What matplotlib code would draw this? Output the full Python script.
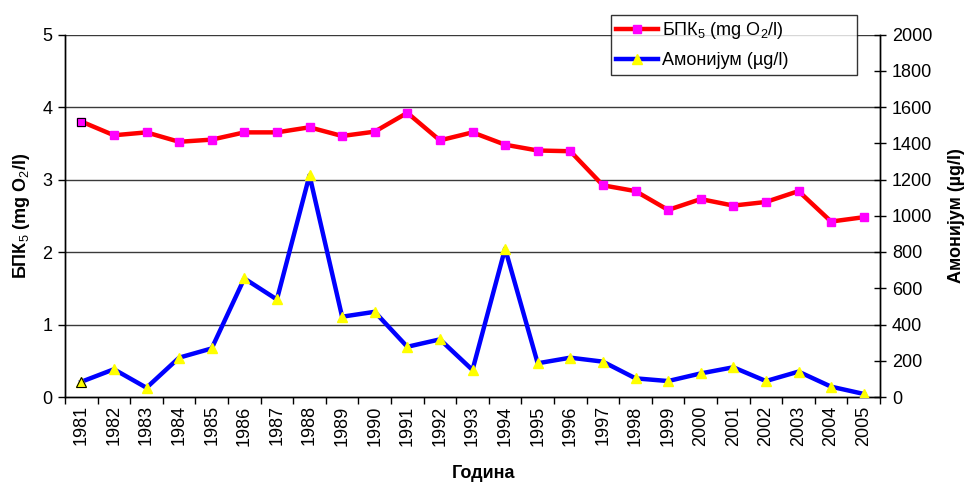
import matplotlib
matplotlib.use("Agg")
import matplotlib.pyplot as plt
import numpy as np

plt.rcParams['font.family'] = ['Liberation Sans', 'DejaVu Sans']
plt.rcParams['mathtext.fontset'] = 'custom'
plt.rcParams['mathtext.rm'] = 'Liberation Sans'
plt.rcParams['mathtext.it'] = 'Liberation Sans'
plt.rcParams['mathtext.bf'] = 'Liberation Sans:bold'

years = list(range(1981, 2006))
bpk5 = [3.80, 3.61, 3.65, 3.52, 3.55, 3.65, 3.65, 3.72, 3.60, 3.66, 3.92, 3.54, 3.65,
        3.48, 3.40, 3.39, 2.92, 2.84, 2.58, 2.73, 2.64, 2.69, 2.84, 2.42, 2.48]
ammonium = [84, 153, 51, 217, 268, 654, 538, 1223, 443, 470, 277, 318, 149,
            819, 186, 217, 195, 103, 88, 130, 164, 88, 140, 57, 17]
left_ticks = [0, 1, 2, 3, 4, 5]
right_ticks = list(range(0, 2001, 200))

FS = 13

fig = plt.figure(figsize=(9.65, 4.83), dpi=100)
ax = fig.add_axes([65/965, 1 - 397/483, (880-65)/965, (397-34.5)/483])
ax2 = ax.twinx()

x = np.arange(len(years))

for v in left_ticks[1:]:
    ax.axhline(v, color='#3a3a3a', lw=1.0, zorder=1)

l1, = ax.plot(x, bpk5, color='#ff0000', lw=3.2, marker='s', markersize=6,
              markerfacecolor='#ff00ff', markeredgecolor='#ff00ff', zorder=3)
ax.plot(x[:1], bpk5[:1], ls='none', marker='s', markersize=6,
        markerfacecolor='#ff00ff', markeredgecolor='black', markeredgewidth=0.8, zorder=4)
l2, = ax2.plot(x, ammonium, color='#0000ff', lw=3.2, marker='^', markersize=7,
               markerfacecolor='#ffff00', markeredgecolor='#ffff00', zorder=3)
ax2.plot(x[:1], ammonium[:1], ls='none', marker='^', markersize=7,
         markerfacecolor='#ffff00', markeredgecolor='black', markeredgewidth=0.8, zorder=4)

ax.set_xlim(-0.5, len(years) - 0.5)
ax.set_ylim(0, 5)
ax2.set_ylim(0, 2000)

ax.set_yticks(left_ticks)
ax.tick_params(axis='y', direction='out', length=5, width=1, labelsize=FS, pad=4)
ax2.set_yticks(right_ticks)
ax2.tick_params(axis='y', direction='inout', length=9, width=1, labelsize=FS, pad=4)

ax.set_xticks(x)
ax.set_xticklabels([str(y) for y in years], rotation=90, fontsize=FS)
ax.set_xticks(np.arange(-0.5, len(years), 1.0), minor=True)
ax.tick_params(axis='x', which='major', length=0, pad=6)
ax.tick_params(axis='x', which='minor', direction='out', length=5, width=1)

for a in (ax, ax2):
    for s in a.spines.values():
        s.set_color('black')
        s.set_linewidth(1)
ax.spines['top'].set_visible(False)
ax2.spines['top'].set_visible(False)

ax.set_ylabel(r'БПК$_5$ (mg O$_2$/l)', fontsize=FS, fontweight='bold')
ax.yaxis.set_label_coords(-33/815, 0.5)
ax2.set_ylabel('Амонијум (µg/l)', fontsize=FS, fontweight='bold', rotation=90)
ax2.yaxis.set_label_coords(1 + 68/815, 0.5)
ax.set_xlabel('Година', fontsize=FS, fontweight='bold')
ax.xaxis.set_label_coords((483-65)/815, -(465-397)/362.5)

leg = ax2.legend([l1, l2], [r'БПК$_5$ (mg O$_2$/l)', 'Амонијум (µg/l)'],
                 loc='upper left', bbox_to_anchor=(611/965, 1 - 76/483, (857-611)/965, (76-15)/483),
                 bbox_transform=fig.transFigure, mode='expand', fontsize=FS,
                 frameon=True, fancybox=False, handlelength=2.3, handletextpad=0.2,
                 borderaxespad=0, borderpad=0.3, labelspacing=0.6)
leg.get_frame().set_edgecolor('black')
leg.get_frame().set_linewidth(1)
leg.set_zorder(10)

fig.savefig('out.png', dpi=100)
